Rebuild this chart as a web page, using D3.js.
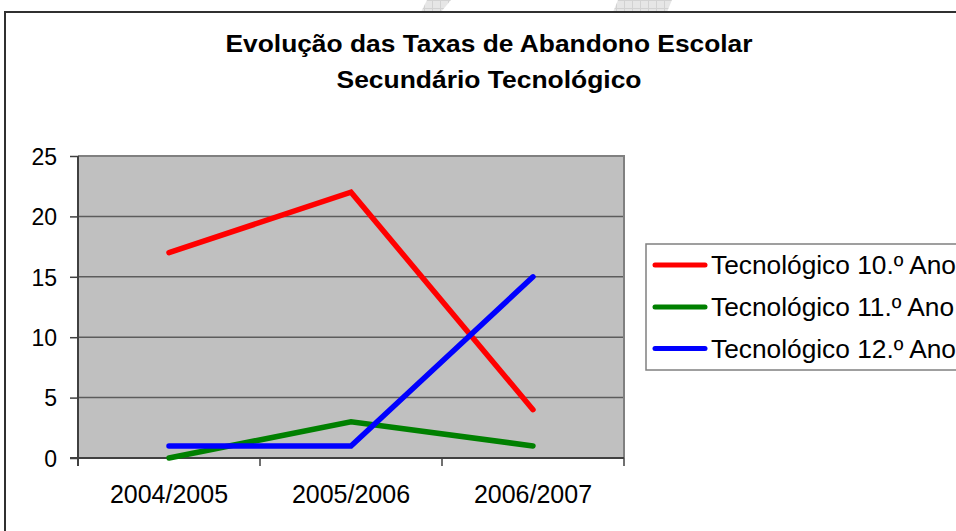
<!DOCTYPE html>
<html><head><meta charset="utf-8">
<script src="https://cdn.jsdelivr.net/npm/d3@7"></script>
<style>body{margin:0;background:#fff;overflow:hidden;} svg{display:block;}</style>
</head><body>
<script>
const categories = ["2004/2005", "2005/2006", "2006/2007"];
const seriesNames = ["Tecnológico 10.º Ano", "Tecnológico 11.º Ano", "Tecnológico 12.º Ano"];
const values10 = [17, 22, 4];
const values11 = [0, 3, 1];
const values12 = [1, 1, 15];
const seriesColors = ["#ff0000", "#008000", "#0000ff"];
const yTicks = [0, 5, 10, 15, 20, 25];
const titleLines = ["Evolução das Taxas de Abandono Escolar", "Secundário Tecnológico"];

const seriesList = [values10, values11, values12].map((v, i) => ({name: seriesNames[i], color: seriesColors[i], values: v}));

const W = 956, H = 531;
const font = "'Liberation Sans', Arial, Helvetica, sans-serif";
const svg = d3.select("body").append("svg").attr("width", W).attr("height", H);

// faint watermark at the very top
const defs = svg.append("defs");
const pat = defs.append("pattern").attr("id", "wm").attr("patternUnits", "userSpaceOnUse")
  .attr("width", 8).attr("height", 8);
pat.append("rect").attr("width", 8).attr("height", 8).attr("fill", "#e6e6e6");
pat.append("path").attr("d", "M0,0.5H8M0.5,0V8").attr("stroke", "#d2d2d2").attr("stroke-width", 1);
const wmShapes = [
  [[427, 0], [451, 0], [441, 12], [421, 12]],
  [[618, 0], [672, 0], [667, 12], [613, 12]]
];
svg.selectAll("polygon.wm").data(wmShapes).join("polygon").attr("class", "wm")
  .attr("points", d => d.map(p => p.join(",")).join(" "))
  .attr("fill", "url(#wm)");

// outer chart border
svg.append("rect").attr("x", 5).attr("y", 12).attr("width", 1100).attr("height", 700)
  .attr("fill", "none").attr("stroke", "#303030").attr("stroke-width", 2);

// title
const title = svg.append("g").attr("font-family", font).attr("font-weight", "bold")
  .attr("font-size", 23).attr("fill", "#000").attr("text-anchor", "middle");
const titleLens = [527, 305];
title.selectAll("text").data(titleLines).join("text")
  .attr("x", 489).attr("y", (d, i) => i === 0 ? 51.5 : 87.5)
  .attr("textLength", (d, i) => titleLens[i]).attr("lengthAdjust", "spacingAndGlyphs")
  .text(d => d);

// plot area
const pLeft = 78, pRight = 624, pTop = 156, pBottom = 458;
const x = d3.scaleBand().domain(categories).range([pLeft, pRight]).padding(0);
const cx = d => x(d) + x.bandwidth() / 2;
const y = d3.scaleLinear().domain([0, 25]).range([pBottom, pTop]);

svg.append("rect").attr("x", pLeft).attr("y", pTop).attr("width", pRight - pLeft).attr("height", pBottom - pTop)
  .attr("fill", "#c0c0c0");

// gridlines
svg.append("g").selectAll("line").data(yTicks.filter(t => t > 0 && t < 25)).join("line")
  .attr("x1", pLeft).attr("x2", pRight).attr("y1", d => y(d)).attr("y2", d => y(d))
  .attr("stroke", "#5c5c5c").attr("stroke-width", 1.5);

// top and right border of plot area
svg.append("path").attr("d", `M${pLeft},${pTop}H${pRight}V${pBottom}`)
  .attr("fill", "none").attr("stroke", "#808080").attr("stroke-width", 2);

// y axis
const yAxis = svg.append("g").attr("transform", `translate(${pLeft},0)`)
  .call(d3.axisLeft(y).tickValues(yTicks).tickSize(8).tickPadding(13).tickFormat(d3.format("d")));
yAxis.select(".domain").attr("d", `M0,${pTop}V${pBottom + 8}`).attr("stroke", "#404040").attr("stroke-width", 2);
yAxis.selectAll(".tick line").attr("stroke", "#404040").attr("stroke-width", 1.5);
yAxis.selectAll(".tick text").attr("font-family", font).attr("font-size", 23).attr("fill", "#000")
  .attr("dy", "0.36em");

// x axis: boundary ticks
const bounds = categories.map(c => x(c)).concat([pRight]);
const xAxis = svg.append("g").attr("transform", `translate(0,${pBottom})`);
xAxis.append("line").attr("x1", pLeft - 8).attr("x2", pRight).attr("y1", 0).attr("y2", 0)
  .attr("stroke", "#404040").attr("stroke-width", 2);
xAxis.selectAll("line.bt").data(bounds).join("line").attr("class", "bt")
  .attr("x1", d => d).attr("x2", d => d).attr("y1", 0).attr("y2", 8)
  .attr("stroke", "#404040").attr("stroke-width", 1.5);
xAxis.selectAll("text").data(categories).join("text")
  .attr("x", d => cx(d)).attr("y", 45.3).attr("text-anchor", "middle")
  .attr("font-family", font).attr("font-size", 25).attr("fill", "#000").text(d => d);

// lines
const line = d3.line().x((d, i) => cx(categories[i])).y(d => y(d));
svg.append("g").selectAll("path").data(seriesList).join("path")
  .attr("d", d => line(d.values)).attr("fill", "none").attr("stroke", d => d.color)
  .attr("stroke-width", 5.5).attr("stroke-linecap", "round").attr("stroke-linejoin", "miter");

// legend
const lg = svg.append("g");
lg.append("rect").attr("x", 646).attr("y", 244).attr("width", 400).attr("height", 126)
  .attr("fill", "#fff").attr("stroke", "#808080").attr("stroke-width", 1.5);
const rowY = [265, 307, 348.5];
const items = lg.selectAll("g.item").data(seriesList).join("g").attr("class", "item");
items.append("line").attr("x1", 655).attr("x2", 705).attr("y1", (d, i) => rowY[i]).attr("y2", (d, i) => rowY[i])
  .attr("stroke", d => d.color).attr("stroke-width", 5).attr("stroke-linecap", "round");
items.append("text").attr("x", 711).attr("y", (d, i) => rowY[i] + 9)
  .attr("font-family", font).attr("font-size", 26.3).attr("fill", "#000").text(d => d.name);
</script>
</body></html>
